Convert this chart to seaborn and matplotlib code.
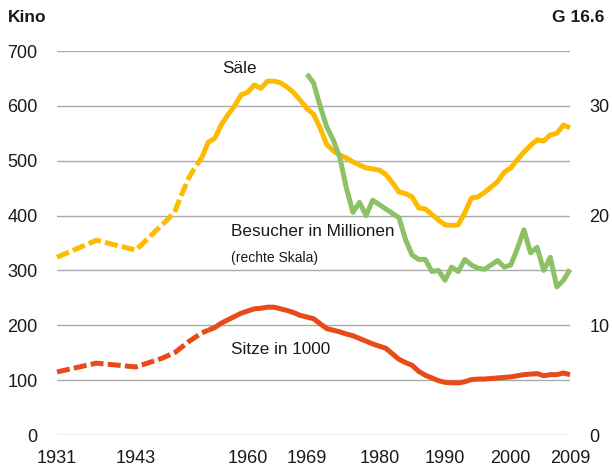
import matplotlib
matplotlib.use("Agg")
import matplotlib.pyplot as plt
import seaborn as sns

sns.set_theme(style="white")
plt.rcParams['font.family'] = ['Liberation Sans', 'DejaVu Sans']

# Säle (Kinosäle), gestrichelt = unvollständige Jahre
saele_dash_years = [1931, 1937, 1943, 1946, 1948, 1949, 1950, 1951, 1952, 1953]
saele_dash = [324, 355, 337, 372, 395, 410, 440, 468, 488, 505]
saele_years = list(range(1953, 2010))
saele = [505, 534, 541, 566, 584, 600, 620, 625, 638, 632,
         645, 645, 642, 634, 624, 610, 595, 585, 560, 530,
         518, 510, 505, 498, 492, 487, 485, 483, 475, 460,
         443, 440, 434, 414, 412, 402, 392, 383, 382, 383,
         405, 432, 434, 442, 452, 462, 479, 487, 502, 516,
         528, 538, 536, 547, 550, 565, 560]

# Sitze in 1000
sitze_dash_years = [1931, 1937, 1943, 1947, 1949, 1951, 1953, 1954]
sitze_dash = [115, 131, 124, 140, 151, 170, 186, 191]
sitze_years = list(range(1954, 2010))
sitze = [191, 196, 204, 210, 216, 222, 226, 230, 231, 233,
         233, 230, 227, 223, 218, 215, 212, 203, 194, 191,
         188, 184, 181, 176, 171, 166, 162, 158, 148, 138,
         132, 127, 116, 109, 104, 99, 96, 95, 95, 97,
         101, 102, 102, 103, 104, 105, 106, 108, 110, 111,
         112, 108, 110, 110, 113, 110]

# Besucher in Millionen (rechte Skala)
besucher_years = list(range(1969, 2010))
besucher = [32.9, 32.1, 30.0, 28.1, 26.9, 25.3, 22.5, 20.3, 21.2, 20.0,
            21.4, 21.0, 20.6, 20.2, 19.8, 17.8, 16.4, 16.0, 16.0, 14.9,
            15.0, 14.1, 15.3, 14.9, 16.0, 15.5, 15.2, 15.1, 15.5, 15.9,
            15.3, 15.5, 17.0, 18.7, 16.6, 17.1, 15.0, 16.2, 13.5, 14.1, 15.1]

x_ticks = [1931, 1943, 1960, 1969, 1980, 1990, 2000, 2009]

YELLOW = '#FDBB00'
GREEN = '#8DC165'
RED = '#E84A1A'
GRID = '#AAAAAA'
TXT = '#1a1a1a'

fig = plt.figure(figsize=(6.12, 4.71), dpi=100)
ax = fig.add_axes([57 / 612, 36 / 471, 513 / 612, 384 / 471])
ax2 = ax.twinx()

lw = 3.6
dash = (2.6, 0.85)

sns.lineplot(x=saele_dash_years, y=saele_dash, ax=ax, color=YELLOW, lw=lw,
             clip_on=False).lines[-1].set_dashes(dash)
sns.lineplot(x=saele_years, y=saele, ax=ax, color=YELLOW, lw=lw, clip_on=False)
sns.lineplot(x=sitze_dash_years, y=sitze_dash, ax=ax, color=RED, lw=lw,
             clip_on=False).lines[-1].set_dashes(dash)
sns.lineplot(x=sitze_years, y=sitze, ax=ax, color=RED, lw=lw, clip_on=False)
sns.lineplot(x=besucher_years, y=besucher, ax=ax2, color=GREEN, lw=lw, clip_on=False)

for l in ax.lines + ax2.lines:
    l.set_solid_capstyle('butt')
    l.set_dash_capstyle('butt')

ax.set_xlim(1931, 2009)
ax.set_ylim(0, 700)
ax2.set_ylim(0, 35)
ax.set_yticks(range(0, 701, 100))
ax2.set_yticks([0, 10, 20, 30])
ax.set_xticks(x_ticks)

ax.grid(axis='y', color=GRID, lw=1)
ax.set_axisbelow(True)
ax2.grid(False)
for a in (ax, ax2):
    for s in a.spines.values():
        s.set_visible(False)
    a.set_xlabel('')
    a.set_ylabel('')

fs = 13
ax.tick_params(axis='y', length=0, pad=14, labelsize=fs, labelcolor=TXT)
ax.tick_params(axis='x', length=0, pad=11, labelsize=fs, labelcolor=TXT)
ax2.tick_params(axis='y', length=0, pad=14, labelsize=fs, labelcolor=TXT)

lfs = 12.3
ax.text(1956.1, 669, 'Säle', fontsize=lfs, color=TXT, va='center', ha='left')
ax.text(1957.5, 371, 'Besucher in Millionen', fontsize=lfs, color=TXT, va='center', ha='left')
ax.text(1957.5, 322, '(rechte Skala)', fontsize=10, color=TXT, va='center', ha='left')
ax.text(1957.5, 155, 'Sitze in 1000', fontsize=lfs, color=TXT, va='center', ha='left')

fig.text(8 / 612, 1 - 18 / 471, 'Kino', fontsize=12.5, fontweight='bold', color=TXT,
         ha='left', va='center')
fig.text(604 / 612, 1 - 18 / 471, 'G 16.6', fontsize=12.5, fontweight='bold', color=TXT,
         ha='right', va='center')

fig.savefig('out.png', dpi=100)
